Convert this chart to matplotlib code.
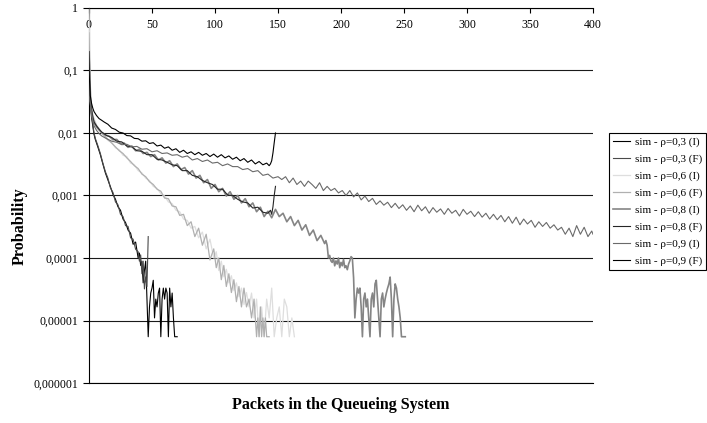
import matplotlib
matplotlib.use("Agg")
import matplotlib.pyplot as plt
from matplotlib.ticker import FixedLocator, FixedFormatter, NullLocator

plt.rcParams['font.family'] = ['Liberation Serif', 'DejaVu Serif']

# ---------------- data (probabilities) ----------------
series_labels = ["sim - ρ=0,3 (I)", "sim - ρ=0,3 (F)", "sim - ρ=0,6 (I)", "sim - ρ=0,6 (F)",
                 "sim - ρ=0,8 (I)", "sim - ρ=0,8 (F)", "sim - ρ=0,9 (I)", "sim - ρ=0,9 (F)"]

x_tick_values = [0, 50, 100, 150, 200, 250, 300, 350, 400]
y_tick_values = [1e-6, 1e-5, 1e-4, 1e-3, 1e-2, 1e-1, 1]
y_tick_labels = ["0,000001", "0,00001", "0,0001", "0,001", "0,01", "0,1", "1"]

# rho = 0.3 (I)
x03I = [0, 1, 2, 3, 4] + list(range(5, 38, 2)) + [39, 40, 41, 42, 43, 44, 45] + list(range(46, 71))
p03I = [0.35, 0.03, 0.018, 0.013, 0.0095,
        0.0079, 0.006, 0.0045, 0.0032, 0.0023, 0.00178, 0.00138, 0.00105, 0.00087, 0.00066,
        0.00058, 0.00042, 0.00037, 0.00028, 0.00025, 0.000166, 0.00018,
        1e-4, 1.2e-4, 7.6e-5, 8.9e-5, 4e-5, 6.3e-5, 8.9e-5,
        2.2e-5, 5.5e-6, 1.65e-5, 2.75e-5, 3.3e-5, 4.4e-5, 1.1e-5, 2.2e-5, 1.65e-5, 2.75e-5,
        3.3e-5, 5.5e-6, 2.2e-5, 3.3e-5, 2.2e-5, 3.3e-5, 2.75e-5, 5.5e-6, 3.3e-5, 1.65e-5,
        2.75e-5, 1.1e-5, 5.5e-6, 5.5e-6, 5.5e-6]

# rho = 0.3 (F)
x03F = [0, 1, 2, 3, 4, 5] + list(range(7, 38, 2)) + [39, 40, 41, 42, 43, 44, 45, 46, 47]
p03F = [0.35, 0.035, 0.02, 0.014, 0.010, 0.0082,
        0.0063, 0.0047, 0.0033, 0.0024, 0.0019, 0.00132, 0.00112, 0.00079, 0.00071, 0.0005,
        0.00046, 0.00033, 0.00032, 0.00021, 0.0002, 0.000138,
        1.26e-4, 8.9e-5, 1.12e-4, 5.6e-5, 8.9e-5, 3.2e-5, 5e-5, 3.5e-5, 2.2e-4]

# rho = 0.6 (I)
x06I = [0, 1, 2, 3, 4, 6, 8, 10] + list(range(12, 100, 3)) + list(range(101, 164, 2))
p06I = [0.95, 0.05, 0.025, 0.02, 0.017, 0.0135, 0.0118, 0.0102,
        0.0093, 0.0076, 0.0071, 0.0058, 0.0054, 0.0044, 0.0042, 0.0033, 0.0031, 0.0025,
        0.0023, 0.0019, 0.00174, 0.0014, 0.0013, 0.00107, 0.00098, 0.00079, 0.00074, 0.00058,
        0.00055, 0.00042, 0.0004, 0.0003, 0.00032, 0.00021, 0.00026, 0.00014, 0.0002, 0.0001,
        1.26e-4, 6.3e-5, 8.9e-5, 5e-5, 6.6e-5, 4e-5, 5.2e-5, 3e-5, 4e-5, 2.4e-5,
        3.3e-5, 1.8e-5, 2.8e-5, 1.65e-5, 2.75e-5, 1.1e-5, 2.2e-5, 5.5e-6, 1.65e-5, 5.5e-6,
        2.2e-5, 1.1e-5, 3.3e-5, 5.5e-6, 1.1e-5, 1.65e-5, 5.5e-6, 2.2e-5, 1.65e-5, 5.5e-6,
        1.1e-5, 5.5e-6]

# rho = 0.6 (F)
x06F = [0, 1, 2, 3, 4, 6, 8, 10] + list(range(12, 100, 3)) + list(range(101, 133, 2)) + list(range(133, 144))
p06F = [0.4, 0.06, 0.024, 0.019, 0.016, 0.013, 0.0115, 0.0100,
        0.0091, 0.0079, 0.0069, 0.0060, 0.0052, 0.0047, 0.0040, 0.0035, 0.0030, 0.0027,
        0.0022, 0.0020, 0.00166, 0.0015, 0.00126, 0.00117, 0.00091, 0.00089, 0.00068, 0.00066,
        0.00048, 0.0005, 0.00033, 0.00038, 0.00022, 0.0003, 0.00016, 0.00024, 0.000093, 0.00014,
        7e-5, 1e-4, 4.5e-5, 7.6e-5, 3.5e-5, 5.6e-5, 2.8e-5, 4.5e-5, 2e-5, 3.5e-5,
        1.65e-5, 3.3e-5, 1.65e-5, 2.2e-5, 1.1e-5, 2.2e-5,
        5.5e-6, 1.1e-5, 5.5e-6, 1.65e-5, 5.5e-6, 1.1e-5, 5.5e-6, 1.1e-5, 5.5e-6, 5.5e-6, 5.5e-6]

# rho = 0.8 (I)
x08I = [0, 1, 2, 3, 4, 6, 8, 10] + list(range(13, 188, 3)) + list(range(188, 252))
p08I = [0.2, 0.032, 0.022, 0.017, 0.0145, 0.0125, 0.0112, 0.0102,
        0.0093, 0.0089, 0.0078, 0.0079, 0.0068, 0.0069, 0.0059, 0.0062, 0.0052, 0.0055,
        0.0047, 0.0049, 0.0042, 0.0045, 0.0037, 0.0040, 0.0033, 0.0036, 0.0029, 0.0032,
        0.0026, 0.0028, 0.0022, 0.0025, 0.0019, 0.0021, 0.0016, 0.0018, 0.0013, 0.0015,
        0.00115, 0.0013, 0.00098, 0.00115, 0.00087, 0.0010, 0.00076, 0.00089, 0.00066, 0.00076,
        0.00055, 0.00065, 0.00046, 0.00056, 0.00044, 0.0006, 0.00046, 0.00052, 0.00038, 0.00046,
        0.00033, 0.0004, 0.00028, 0.00034, 0.00023, 0.00028, 0.00019, 0.00023, 0.00017,
        1.9e-4, 1.6e-4, 1.0e-4, 1.1e-4, 9e-5, 8.5e-5, 1.0e-4, 7.5e-5, 9e-5, 8e-5,
        1.0e-4, 7e-5, 8.5e-5, 7.5e-5, 9.5e-5, 7e-5, 7.5e-5, 6.5e-5, 8e-5, 9e-5,
        1.05e-4, 1.0e-4,
        4.8e-5, 1.1e-5, 2.2e-5, 3.3e-5, 2.75e-5, 3.3e-5, 1.65e-5, 5.5e-6, 2.2e-5, 2.75e-5,
        1.65e-5, 2.2e-5, 1.1e-5, 5.5e-6, 2.2e-5, 2.75e-5, 1.65e-5, 3.85e-5, 4.4e-5, 2.2e-5,
        1.1e-5, 5.5e-6, 2.2e-5, 2.75e-5, 1.65e-5, 2.2e-5, 2.75e-5, 3.3e-5, 3.85e-5, 4.95e-5,
        2.2e-5, 5.5e-6, 2.2e-5, 3.85e-5, 3.3e-5, 2.2e-5, 1.65e-5, 1.1e-5, 5.5e-6, 5.5e-6,
        5.5e-6, 5.5e-6]

# rho = 0.8 (F)
x08F = [0, 1, 2, 3, 4, 6, 8, 10] + list(range(14, 143, 4)) + [144, 145, 146, 147, 148]
p08F = [0.2, 0.036, 0.024, 0.018, 0.015, 0.013, 0.0115, 0.0104,
        0.0091, 0.0085, 0.0074, 0.0072, 0.0062, 0.0060, 0.0052, 0.0051, 0.0045, 0.0045,
        0.0038, 0.0037, 0.0034, 0.0031, 0.0030, 0.0025, 0.0025, 0.0021, 0.0020, 0.00174,
        0.0016, 0.0015, 0.00126, 0.00126, 0.00102, 0.0010, 0.00087, 0.00079, 0.00076, 0.00063,
        0.00065, 0.00054, 0.00052,
        0.00058, 0.0005, 0.00066, 0.0010, 0.0014]

# rho = 0.9 (I)
x09I = [0, 1, 2, 3, 4, 6, 8, 10] + list(range(14, 151, 4)) + list(range(153, 400, 3)) + [400]
p09I = [0.1, 0.035, 0.021, 0.016, 0.013, 0.011, 0.0098, 0.0090,
        0.0081, 0.0074, 0.0071, 0.0065, 0.0066, 0.0060, 0.0061, 0.0055, 0.0056, 0.0050,
        0.0052, 0.0047, 0.0048, 0.0044, 0.0045, 0.0041, 0.0043, 0.0037, 0.0039, 0.0035,
        0.0037, 0.0033, 0.0034, 0.0030, 0.0032, 0.0029, 0.0029, 0.0026, 0.0027, 0.0024,
        0.0025, 0.0021, 0.0022, 0.0019, 0.0020,
        0.0018, 0.0020, 0.0016, 0.0019, 0.0015, 0.0017, 0.0014, 0.0017, 0.0015, 0.0013,
        0.0016, 0.0012, 0.0014, 0.0012, 0.0013, 0.0011, 0.0012, 0.0010, 0.0012, 0.00095,
        0.0011, 0.00085, 0.00098, 0.00080, 0.00090, 0.00072, 0.00082, 0.00070, 0.00078, 0.00064,
        0.00075, 0.00062, 0.00071, 0.00058, 0.00068, 0.00055, 0.00070, 0.00057, 0.00066, 0.00052,
        0.00064, 0.00054, 0.00061, 0.00050, 0.00062, 0.00052, 0.00058, 0.00047, 0.00060, 0.00050,
        0.00056, 0.00046, 0.00055, 0.00045, 0.00052, 0.00042, 0.00050, 0.00041, 0.00048, 0.00038,
        0.00046, 0.00036, 0.00045, 0.00034, 0.00042, 0.00035, 0.00040, 0.00031, 0.00038, 0.00032,
        0.00037, 0.00030, 0.00034, 0.00028, 0.00031, 0.00024, 0.00030, 0.00022, 0.00033, 0.00024,
        0.00031, 0.00022, 0.00027,
        0.00024]

# rho = 0.9 (F)
x09F = [0, 1, 2, 3, 4, 6, 8, 10, 12] + list(range(15, 142, 3)) + [143, 144, 145, 146, 147, 148]
p09F = [0.1, 0.04, 0.03, 0.025, 0.022, 0.019, 0.017, 0.016, 0.015,
        0.0138, 0.0120, 0.0114, 0.0103, 0.0100, 0.0091, 0.0090, 0.0082, 0.0081, 0.0074,
        0.0075, 0.0068, 0.0070, 0.0062, 0.0064, 0.0057, 0.0060, 0.0053, 0.0056, 0.0049,
        0.0053, 0.0047, 0.0050, 0.0045, 0.0049, 0.0044, 0.0047, 0.0042, 0.0046, 0.0041,
        0.0045, 0.0040, 0.0043, 0.0038, 0.0041, 0.0036, 0.0039, 0.0034, 0.0037, 0.0032,
        0.0035, 0.0031, 0.0033,
        0.0030, 0.0032, 0.0036, 0.0048, 0.0070, 0.0100]

series_x = [x03I, x03F, x06I, x06F, x08I, x08F, x09I, x09F]
series_p = [p03I, p03F, p06I, p06F, p08I, p08F, p09I, p09F]
series_colors = ['#000000', '#4a4a4a', '#dedede', '#b0b0b0', '#858585', '#262626', '#6a6a6a', '#000000']
series_lw = [0.8, 0.8, 0.9, 0.9, 1.2, 0.8, 0.8, 0.8]

# ---------------- figure ----------------
W, H = 707, 423
fig = plt.figure(figsize=(W / 100, H / 100), dpi=100)
ax = fig.add_axes([89 / W, 40 / H, 504 / W, 375 / H])

handles = []
for xs, ps, c, lw, lab in zip(series_x, series_p, series_colors, series_lw, series_labels):
    assert len(xs) == len(ps), (lab, len(xs), len(ps))
    h, = ax.plot(xs, ps, color=c, lw=lw, label=lab, zorder=3)
    handles.append(h)

ax.set_yscale('log')
ax.set_xlim(0, 400)
ax.set_ylim(1e-6, 1)

ax.yaxis.set_major_locator(FixedLocator(y_tick_values))
ax.yaxis.set_major_formatter(FixedFormatter(y_tick_labels))
ax.yaxis.set_minor_locator(NullLocator())
ax.yaxis.grid(True, color='#1a1a1a', lw=0.8, zorder=1)

ax.xaxis.set_ticks_position('top')
ax.xaxis.set_major_locator(FixedLocator(x_tick_values))
ax.xaxis.set_major_formatter(FixedFormatter([str(v) for v in x_tick_values]))
ax.tick_params(axis='x', which='both', direction='in', length=3.5, width=0.8,
               labelsize=8.5, top=True, bottom=False, labeltop=True, labelbottom=False, pad=-16.5)
ax.tick_params(axis='y', which='major', direction='out', length=4, width=0.8,
               labelsize=8.5, pad=4)

for s in ['top', 'left', 'bottom']:
    ax.spines[s].set_color('black')
    ax.spines[s].set_linewidth(0.8)
ax.spines['right'].set_visible(False)

fig.text(341 / W, 1 - 405 / H, "Packets in the Queueing System", ha='center', va='center',
         fontsize=11.5, fontweight='bold')
fig.text(20 / W, 1 - 226 / H, "Probability", ha='center', va='center', rotation=90,
         fontsize=11.5, fontweight='bold')

leg = fig.legend(handles, series_labels, loc='upper left', bbox_to_anchor=(609 / W, 1 - 133 / H),
                 fontsize=8, frameon=True, fancybox=False, framealpha=1, edgecolor='black',
                 handlelength=1.5, handletextpad=0.4, labelspacing=0.62, borderpad=0.4,
                 borderaxespad=0)
leg.get_frame().set_linewidth(0.8)

fig.savefig("out.png", dpi=100)
